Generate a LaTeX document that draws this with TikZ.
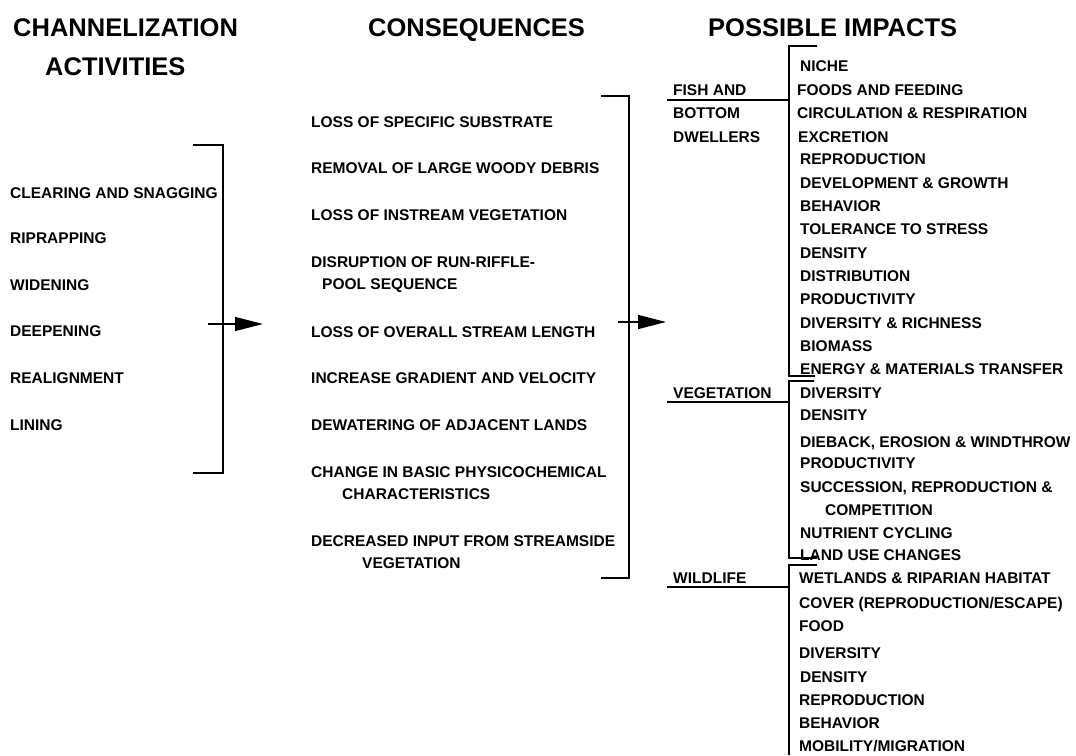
\documentclass[tikz,border=0pt]{standalone}
\usepackage{fontspec}
\setmainfont{Liberation Sans}
\usetikzlibrary{arrows.meta}
\tikzset{
  itm/.style={anchor=base west, inner sep=0pt, font=\fontsize{15.5}{18}\selectfont\bfseries, yshift=-5.5pt},
  hdr/.style={anchor=base west, inner sep=0pt, font=\fontsize{25.5}{30}\selectfont\bfseries, yshift=-9.2pt},
  brk/.style={line width=1.3pt, black},
  arr/.style={line width=1.3pt, -{Triangle[length=28pt,width=14pt]}},
}
\begin{document}
\begin{tikzpicture}[x=1pt,y=-1pt]
\useasboundingbox (0,0) rectangle (1076,755);
% headings
\node[hdr] (h1a) at (13,27.5) {CHANNELIZATION};
\node[hdr] (h1b) at (45,66) {ACTIVITIES};
\node[hdr] (h2) at (368,27) {CONSEQUENCES};
\node[hdr] (h3) at (708,27) {POSSIBLE IMPACTS};
% left column
\node[itm] (a1) at (10,193) {CLEARING AND SNAGGING};
\node[itm] (a2) at (10,238) {RIPRAPPING};
\node[itm] (a3) at (10,285) {WIDENING};
\node[itm] (a4) at (10,331) {DEEPENING};
\node[itm] (a5) at (10,378) {REALIGNMENT};
\node[itm] (a6) at (10,425) {LINING};
% left bracket and arrow
\coordinate (lb1) at (193,145);
\coordinate (lb2) at (223,145);
\coordinate (lb3) at (223,473);
\coordinate (lb4) at (193,473);
\draw[brk] (lb1) -- (lb2) -- (lb3) -- (lb4);
\coordinate (la1) at (208,324);
\coordinate (la2) at (263,324);
\draw[arr] (la1) -- (la2);
% middle column
\node[itm] (c1) at (311,122) {LOSS OF SPECIFIC SUBSTRATE};
\node[itm] (c2) at (311,168) {REMOVAL OF LARGE WOODY DEBRIS};
\node[itm] (c3) at (311,215) {LOSS OF INSTREAM VEGETATION};
\node[itm] (c4) at (311,262) {DISRUPTION OF RUN-RIFFLE-};
\node[itm] (c4b) at (322,284) {POOL SEQUENCE};
\node[itm] (c5) at (311,332) {LOSS OF OVERALL STREAM LENGTH};
\node[itm] (c6) at (311,378) {INCREASE GRADIENT AND VELOCITY};
\node[itm] (c7) at (311,425) {DEWATERING OF ADJACENT LANDS};
\node[itm] (c8) at (311,472) {CHANGE IN BASIC PHYSICOCHEMICAL};
\node[itm] (c8b) at (342,494) {CHARACTERISTICS};
\node[itm] (c9) at (311,541) {DECREASED INPUT FROM STREAMSIDE};
\node[itm] (c9b) at (362,563) {VEGETATION};
% middle bracket and arrow
\coordinate (mb1) at (601,96);
\coordinate (mb2) at (629,96);
\coordinate (mb3) at (629,578);
\coordinate (mb4) at (601,578);
\draw[brk] (mb1) -- (mb2) -- (mb3) -- (mb4);
\coordinate (ma1) at (618,322);
\coordinate (ma2) at (666,322);
\draw[arr] (ma1) -- (ma2);
% right group labels
\node[itm] (g1a) at (673,90) {FISH AND};
\node[itm] (g1b) at (673,113) {BOTTOM};
\node[itm] (g1c) at (673,137) {DWELLERS};
\node[itm] (g2) at (673,393) {VEGETATION};
\node[itm] (g3) at (673,578) {WILDLIFE};
% right brackets
\coordinate (f1) at (817,46);
\coordinate (f2) at (789,46);
\coordinate (f3) at (789,376);
\coordinate (f4) at (815,376);
\draw[brk] (f1) -- (f2) -- (f3) -- (f4);
\coordinate (v1) at (814,381);
\coordinate (v2) at (789,381);
\coordinate (v3) at (789,558);
\coordinate (v4) at (817,558);
\draw[brk] (v1) -- (v2) -- (v3) -- (v4);
\coordinate (w1) at (817,565);
\coordinate (w2) at (789,565);
\coordinate (w3) at (789,755);
\draw[brk] (w1) -- (w2) -- (w3);
% underlines
\coordinate (u1) at (667,100);
\coordinate (u1e) at (789,100);
\draw[brk] (u1) -- (u1e);
\coordinate (u2) at (667,402);
\coordinate (u2e) at (789,402);
\draw[brk] (u2) -- (u2e);
\coordinate (u3) at (667,587);
\coordinate (u3e) at (789,587);
\draw[brk] (u3) -- (u3e);
% fish items
\node[itm] (f01) at (800,66) {NICHE};
\node[itm] (f02) at (797,90) {FOODS AND FEEDING};
\node[itm] (f03) at (797,113) {CIRCULATION \& RESPIRATION};
\node[itm] (f04) at (798,137) {EXCRETION};
\node[itm] (f05) at (800,159) {REPRODUCTION};
\node[itm] (f06) at (800,183) {DEVELOPMENT \& GROWTH};
\node[itm] (f07) at (800,206) {BEHAVIOR};
\node[itm] (f08) at (800,229) {TOLERANCE TO STRESS};
\node[itm] (f09) at (800,253) {DENSITY};
\node[itm] (f10) at (800,276) {DISTRIBUTION};
\node[itm] (f11) at (800,299) {PRODUCTIVITY};
\node[itm] (f12) at (800,323) {DIVERSITY \& RICHNESS};
\node[itm] (f13) at (800,346) {BIOMASS};
\node[itm] (f14) at (800,369) {ENERGY \& MATERIALS TRANSFER};
% vegetation items
\node[itm] (v01) at (800,393) {DIVERSITY};
\node[itm] (v02) at (800,415) {DENSITY};
\node[itm] (v03) at (800,442) {DIEBACK, EROSION \& WINDTHROW};
\node[itm] (v04) at (800,463) {PRODUCTIVITY};
\node[itm] (v05) at (800,487) {SUCCESSION, REPRODUCTION \&};
\node[itm] (v05b) at (825,510) {COMPETITION};
\node[itm] (v06) at (800,533) {NUTRIENT CYCLING};
\node[itm] (v07) at (800,555) {LAND USE CHANGES};
% wildlife items
\node[itm] (w01) at (799,578) {WETLANDS \& RIPARIAN HABITAT};
\node[itm] (w02) at (799,603) {COVER (REPRODUCTION/ESCAPE)};
\node[itm] (w03) at (799,626) {FOOD};
\node[itm] (w04) at (799,653) {DIVERSITY};
\node[itm] (w05) at (800,677) {DENSITY};
\node[itm] (w06) at (799,700) {REPRODUCTION};
\node[itm] (w07) at (799,723) {BEHAVIOR};
\node[itm] (w08) at (799,746) {MOBILITY/MIGRATION};
\end{tikzpicture}
\end{document}
